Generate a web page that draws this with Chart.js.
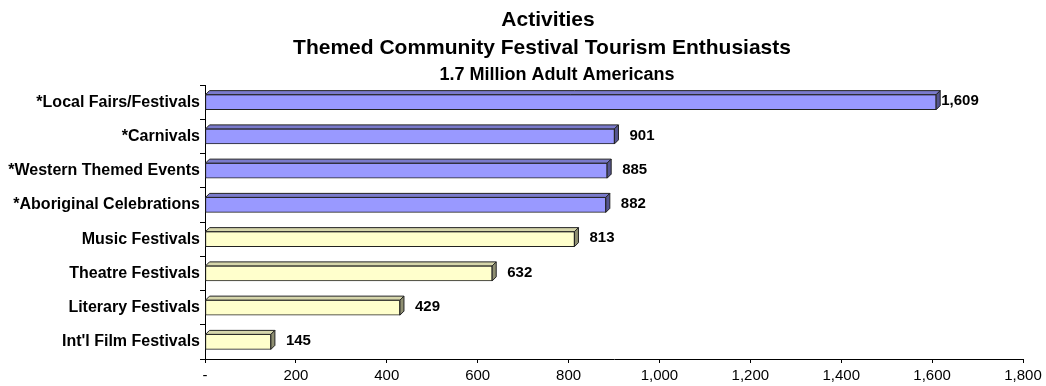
<!DOCTYPE html>
<html>
<head>
<meta charset="utf-8">
<script src="https://cdn.jsdelivr.net/npm/chart.js@4"></script>
<style>
  html, body { margin: 0; padding: 0; background: #fff; }
  #wrap { width: 1046px; height: 386px; position: relative; }
</style>
</head>
<body>
<div id="wrap"><canvas id="activitiesChart"></canvas></div>
<script>
// Activities - Themed Community Festival Tourism Enthusiasts

const titleLines = ['Activities', 'Themed Community Festival Tourism Enthusiasts'];
const subTitle = '1.7 Million Adult Americans';

const categories = [
    '*Local Fairs/Festivals',
    '*Carnivals',
    '*Western Themed Events',
    '*Aboriginal Celebrations',
    'Music Festivals',
    'Theatre Festivals',
    'Literary Festivals',
    "Int'l Film Festivals"
];
const enthusiasts = [1609, 901, 885, 882, 813, 632, 429, 145];

const xTicks = [0, 200, 400, 600, 800, 1000, 1200, 1400, 1600, 1800];

const FONT = "'Liberation Sans', Arial, sans-serif";

// starred rows are blue, the others pale yellow
const faceColors = categories.map(c => c.startsWith('*') ? '#9999ff' : '#ffffcc');
const topColors = categories.map(c => c.startsWith('*') ? '#7a7acc' : '#d6d6ab');
const sideColors = categories.map(c => c.startsWith('*') ? '#55558f' : '#8f8f72');

// draws the three title lines
const titleBlock = {
    id: 'titleBlock',
    afterDraw(chart) {
        const ctx = chart.ctx;
        ctx.save();
        ctx.fillStyle = '#000';
        ctx.textAlign = 'center';
        ctx.textBaseline = 'middle';
        ctx.font = 'bold 21px ' + FONT;
        ctx.fillText(titleLines[0], 548, 20);
        ctx.fillText(titleLines[1], 542, 48);
        ctx.font = 'bold 18px ' + FONT;
        ctx.fillText(subTitle, 557, 75);
        ctx.restore();
    }
};

// fake 3D depth on each bar + value labels
const bar3d = {
    id: 'bar3d',
    afterDatasetsDraw(chart) {
        const ctx = chart.ctx;
        const meta = chart.getDatasetMeta(0);
        const d = 4;
        ctx.save();
        ctx.lineWidth = 1;
        ctx.strokeStyle = '#222';
        meta.data.forEach((bar, i) => {
            const p = bar.getProps(['x', 'y', 'base', 'height'], true);
            const top = p.y - p.height / 2;
            const bottom = p.y + p.height / 2;

            // top face
            ctx.beginPath();
            ctx.moveTo(p.base, top);
            ctx.lineTo(p.base + d, top - d);
            ctx.lineTo(p.x + d, top - d);
            ctx.lineTo(p.x, top);
            ctx.closePath();
            ctx.fillStyle = topColors[i];
            ctx.fill();
            ctx.stroke();

            // side face
            ctx.beginPath();
            ctx.moveTo(p.x, top);
            ctx.lineTo(p.x + d, top - d);
            ctx.lineTo(p.x + d, bottom - d);
            ctx.lineTo(p.x, bottom);
            ctx.closePath();
            ctx.fillStyle = sideColors[i];
            ctx.fill();
            ctx.stroke();

            // value label
            const value = enthusiasts[i];
            const gap = value > 1500 ? 5 : 15;
            ctx.fillStyle = '#000';
            ctx.font = 'bold 15px ' + FONT;
            ctx.textAlign = 'left';
            ctx.textBaseline = 'middle';
            ctx.fillText(value.toLocaleString('en-US'), p.x + gap, p.y - 1);
        });
        ctx.restore();
    }
};

new Chart(document.getElementById('activitiesChart'), {
    type: 'bar',
    data: {
        labels: categories,
        datasets: [{
            data: enthusiasts,
            backgroundColor: faceColors,
            borderColor: '#222',
            borderWidth: 1,
            borderSkipped: false,
            barThickness: 15
        }]
    },
    options: {
        indexAxis: 'y',
        responsive: true,
        maintainAspectRatio: false,
        animation: false,
        layout: {
            padding: { top: 85, right: 23, bottom: 0, left: 0 }
        },
        plugins: {
            legend: { display: false },
            title: { display: false },
            tooltip: { enabled: false }
        },
        scales: {
            x: {
                min: 0,
                max: 1800,
                afterFit: function(scale) { scale.height = 27; },
                afterBuildTicks: function(scale) {
                    scale.ticks = xTicks.map(v => ({ value: v }));
                },
                grid: {
                    display: true,
                    drawOnChartArea: false,
                    drawTicks: true,
                    tickLength: 4,
                    color: '#000'
                },
                border: { display: true, color: '#000', width: 1 },
                ticks: {
                    padding: 4,
                    maxRotation: 0,
                    font: { size: 15, family: FONT },
                    color: '#000',
                    callback: function(value) {
                        return value === 0 ? '-' : value.toLocaleString('en-US');
                    }
                }
            },
            y: {
                afterFit: function(scale) { scale.width = 205; },
                grid: {
                    display: true,
                    offset: true,
                    drawOnChartArea: false,
                    drawTicks: true,
                    tickLength: 5,
                    color: '#000'
                },
                border: { display: true, color: '#000', width: 1 },
                ticks: {
                    padding: 0,
                    font: { size: 16, weight: 'bold', family: FONT },
                    color: '#000'
                }
            }
        }
    },
    plugins: [titleBlock, bar3d]
});
</script>
</body>
</html>
